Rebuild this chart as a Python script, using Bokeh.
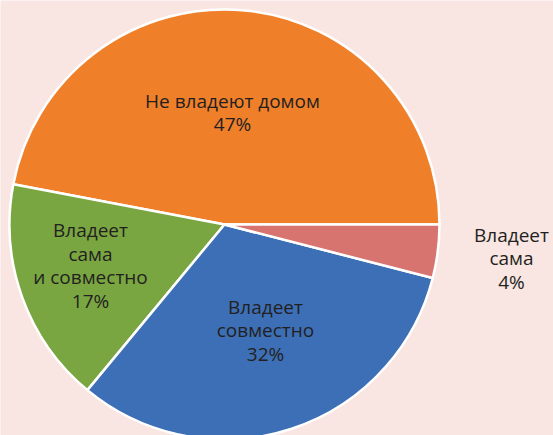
import math
from bokeh.plotting import figure
from bokeh.models import Range1d, ColumnDataSource
from bokeh.core.properties import value
from bokeh.embed import file_html
from bokeh.resources import INLINE

categories = ["Не владеют домом", "Владеет сама\nи совместно", "Владеет совместно", "Владеет сама"]
shares = [47, 17, 32, 4]
colors = ["#F07F2A", "#7AA642", "#3C6FB6", "#D87470"]
label_texts = ["Не владеют домом\n47%", "Владеет\nсама\nи совместно\n17%", "Владеет\nсовместно\n32%", "Владеет\nсама\n4%"]
label_x = [232, 90, 265, 511]
label_y = [112, 265, 330, 258]

W, H = 553, 435
cx, cy, R = 224, 224, 215

total = sum(shares)
starts, ends = [], []
acc = 0.0
for s in shares:
    starts.append(2 * math.pi * acc / total)
    acc += s
    ends.append(2 * math.pi * acc / total)

p = figure(width=W, height=H, output_backend="svg", toolbar_location=None,
           x_range=Range1d(0, W), y_range=Range1d(H, 0), min_border=0)
p.background_fill_color = "#F9E6E3"
p.border_fill_color = "#F9E6E3"
p.outline_line_color = None
p.axis.visible = False
p.grid.visible = False

src = ColumnDataSource(dict(start=starts, end=ends, color=colors))
p.wedge(x=cx, y=cy, radius=R, start_angle="start", end_angle="end", direction="anticlock",
        fill_color="color", line_color="white", line_width=2.5, source=src)

lsrc = ColumnDataSource(dict(x=label_x, y=label_y, t=label_texts))
p.text(x="x", y="y", text="t", source=lsrc, text_align="center", text_baseline="middle",
       text_font=value("Open Sans"), text_font_size="19px", text_color="#231F20",
       text_line_height=0.9)

open("out.html", "w").write(file_html(p, INLINE))
